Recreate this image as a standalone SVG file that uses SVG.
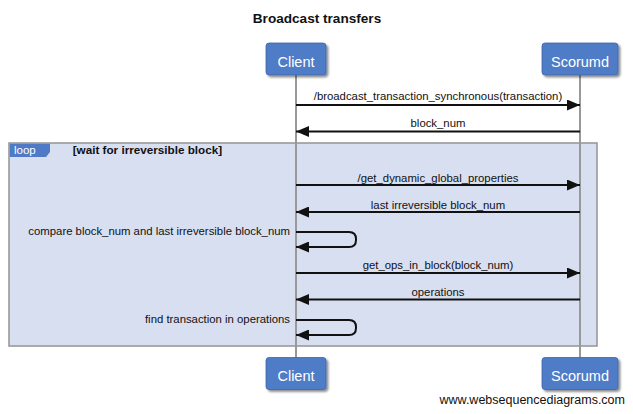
<svg xmlns="http://www.w3.org/2000/svg" width="633" height="414" viewBox="0 0 633 414">
<style>
text{font-family:"Liberation Sans",Arial,sans-serif}
.title{font-size:13.6px;font-weight:bold;fill:#111}
.box{fill:#4f7bc6;stroke:#3f66a8;stroke-width:0.8}
.boxt{font-size:14.5px;fill:#fff;text-anchor:middle}
.life{stroke:#999;stroke-width:2;fill:none}
.msg{stroke:#111;stroke-width:2;fill:none}
.lbl{font-size:11.35px;fill:#111;text-anchor:middle}
.lblr{font-size:11.35px;fill:#111;text-anchor:end}
.loop{fill:#d8dff1;stroke:#999;stroke-width:1.6}
.tab{fill:#4f7bc6}
.guard{font-size:11.7px;font-weight:bold;fill:#111}
</style>
<defs>
<marker id="ah" markerWidth="13" markerHeight="11" refX="13" refY="5.5" orient="auto" markerUnits="userSpaceOnUse">
<path d="M0,0 L13,5.5 L0,11 Z" fill="#111"/>
</marker>
<filter id="sh" x="-20%" y="-20%" width="140%" height="150%">
<feDropShadow dx="2" dy="2" stdDeviation="1.3" flood-color="#000" flood-opacity="0.45"/>
</filter>
</defs>
<rect width="633" height="414" fill="#fff"/>
<text class="title" x="317" y="23.3" text-anchor="middle">Broadcast transfers</text>

<g id="loop">
<rect class="loop" x="9" y="143" width="588" height="203"/>
<path class="tab" d="M9.8,143.8 H50 V152 L46,157 H9.8 Z"/>
<text x="14" y="154" style="font-size:11.5px;fill:#fff">loop</text>
<text class="guard" x="72.7" y="154">[wait for irreversible block]</text>
</g>

<g id="lifelines">
<line class="life" x1="296" y1="75" x2="296" y2="358"/>
<line class="life" x1="580" y1="75" x2="580" y2="358"/>
</g>

<g id="client-top">
<rect class="box" x="266" y="43" width="60" height="32" rx="3" filter="url(#sh)"/>
<text class="boxt" x="296" y="66.5">Client</text>
</g>
<g id="scorumd-top">
<rect class="box" x="542" y="43" width="76" height="32" rx="3" filter="url(#sh)"/>
<text class="boxt" x="580" y="66.5">Scorumd</text>
</g>
<g id="client-bottom">
<rect class="box" x="266" y="357.5" width="60" height="32" rx="3" filter="url(#sh)"/>
<text class="boxt" x="296" y="381">Client</text>
</g>
<g id="scorumd-bottom">
<rect class="box" x="542" y="357.5" width="76" height="32" rx="3" filter="url(#sh)"/>
<text class="boxt" x="580" y="381">Scorumd</text>
</g>

<g id="connectors">
<line class="msg" x1="296" y1="105" x2="580" y2="105" marker-end="url(#ah)"/>
<text class="lbl" x="438" y="100">/broadcast_transaction_synchronous(transaction)</text>
<line class="msg" x1="580" y1="131.5" x2="296" y2="131.5" marker-end="url(#ah)"/>
<text class="lbl" x="438" y="127">block_num</text>

<line class="msg" x1="296" y1="185" x2="580" y2="185" marker-end="url(#ah)"/>
<text class="lbl" x="438" y="181.5">/get_dynamic_global_properties</text>
<line class="msg" x1="580" y1="212" x2="296" y2="212" marker-end="url(#ah)"/>
<text class="lbl" x="438" y="208.5">last irreversible block_num</text>

<path class="msg" d="M296,232 H349 Q356,232 356,239 V240 Q356,247 349,247 H296" marker-end="url(#ah)"/>
<text class="lblr" x="290" y="235">compare block_num and last irreversible block_num</text>

<line class="msg" x1="296" y1="273" x2="580" y2="273" marker-end="url(#ah)"/>
<text class="lbl" x="438" y="269">get_ops_in_block(block_num)</text>
<line class="msg" x1="580" y1="299.5" x2="296" y2="299.5" marker-end="url(#ah)"/>
<text class="lbl" x="438" y="296">operations</text>

<path class="msg" d="M296,320 H349 Q356,320 356,327 V328 Q356,335 349,335 H296" marker-end="url(#ah)"/>
<text class="lblr" x="290" y="322.5">find transaction in operations</text>
</g>

<text x="625" y="404" text-anchor="end" style="font-size:12.5px;fill:#111">www.websequencediagrams.com</text>
</svg>
